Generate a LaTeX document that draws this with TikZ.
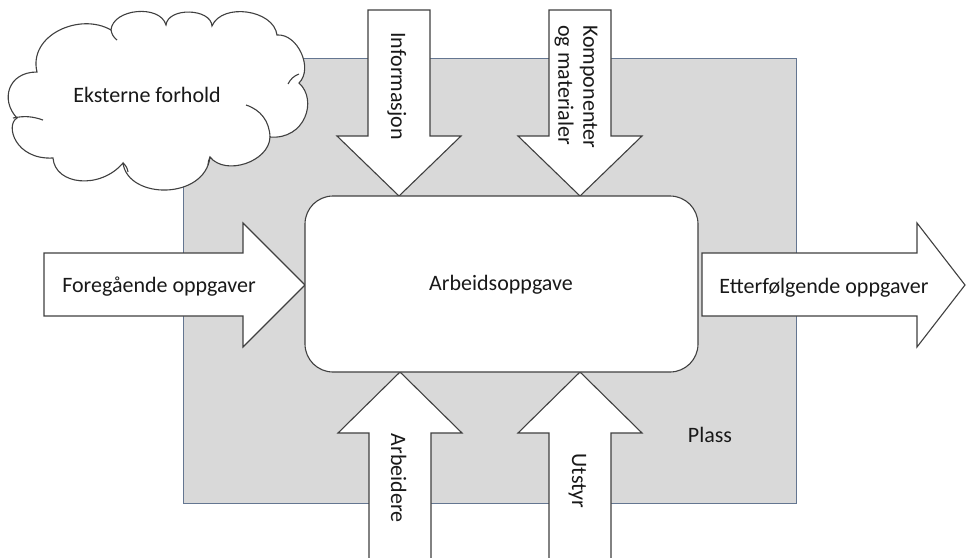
\documentclass[tikz,border=0pt]{standalone}
\usepackage{fontspec}
\setmainfont{Carlito}
\definecolor{areafill}{RGB}{217,217,217}
\definecolor{areaedge}{RGB}{100,118,145}
\definecolor{outline}{RGB}{64,64,64}
\definecolor{ink}{RGB}{25,25,25}
\begin{document}
\begin{tikzpicture}[x=1pt,y=-1pt,
  shapeline/.style={draw=outline, line width=1.1pt, fill=white, line join=miter},
  innerarc/.style={draw=outline, line width=1.1pt},
  lbl/.style={font=\fontsize{22}{25}\selectfont, inner sep=0pt, text=ink},
]
\useasboundingbox (0,0) rectangle (966,557);
\fill[white] (0,0) rectangle (966,557);

% the workplace area
\draw[fill=areafill, draw=areaedge, line width=1pt] (183,58) rectangle (796,503);

% cloud of external conditions
\draw[shapeline]
  (37,72) .. controls (28,35) and (80,12) .. (111,30)
  to[bend left=80] (166,25)
  to[bend left=85] (212,26) to[bend left=75] (277,35)
  to[bend left=70] (299,83)
  .. controls (318,100) and (305,140) .. (270,137)
  to[bend left=70] (210,157)
  .. controls (205,200) and (128,200) .. (123,163)
  .. controls (100,190) and (55,185) .. (53,158)
  .. controls (15,160) and (5,125) .. (17,118)
  .. controls (0,100) and (8,72) .. cycle;
\draw[innerarc] (246,105) to[bend left=35] (270,137);
\draw[innerarc] (13,118) to[bend left=15] (43,120);
\draw[innerarc] (210,157) to[bend right=10] (208,165);
\draw[innerarc] (288,84) to[bend left=20] (299,74);
\draw[innerarc] (111,30) to[bend right=20] (117,40);
\draw[innerarc] (123,163) to[bend left=20] (128,172);
\node[lbl, anchor=base] (ext) at (147,102) {Eksterne forhold};

% incoming arrows from above
\draw[shapeline] (368,10) -- (430,10) -- (430,136) -- (461,136) -- (399,196)
  -- (337,136) -- (368,136) -- cycle;
\draw[shapeline] (549,10) -- (611,10) -- (611,136) -- (642,136) -- (580,196)
  -- (518,136) -- (549,136) -- cycle;

% incoming arrows from below
\draw[shapeline] (369,562) -- (431,562) -- (431,433) -- (462,433) -- (400,372)
  -- (338,433) -- (369,433) -- cycle;
\draw[shapeline] (549,562) -- (611,562) -- (611,433) -- (642,433) -- (580,372)
  -- (518,433) -- (549,433) -- cycle;

% preceding and following tasks
\draw[shapeline] (44,253) -- (243,253) -- (243,223) -- (305,285) -- (243,347)
  -- (243,316) -- (44,316) -- cycle;
\draw[shapeline] (702,253) -- (917,253) -- (917,223) -- (965,285) -- (917,347)
  -- (917,316) -- (702,316) -- cycle;

% the work task itself
\draw[shapeline, rounded corners=28pt] (305,196) rectangle (698,372);

% labels
\node[lbl, anchor=base] (task) at (501,290) {Arbeidsoppgave};
\node[lbl, anchor=base] (prev) at (159,292) {Foregående oppgaver};
\node[lbl, anchor=base] (next) at (824,293) {Etterfølgende oppgaver};
\node[lbl, anchor=base] (place) at (710,442) {Plass};
\node[lbl, anchor=base, rotate=-90] (info) at (391,86) {Informasjon};
\node[lbl, anchor=west, rotate=-90, align=left] (parts) at (576,25)
  {Komponenter\\og materialer};
\node[lbl, anchor=base, rotate=-90] (workers) at (391,478) {Arbeidere};
\node[lbl, anchor=base, rotate=-90] (tools) at (572,481) {Utstyr};
\end{tikzpicture}
\end{document}
